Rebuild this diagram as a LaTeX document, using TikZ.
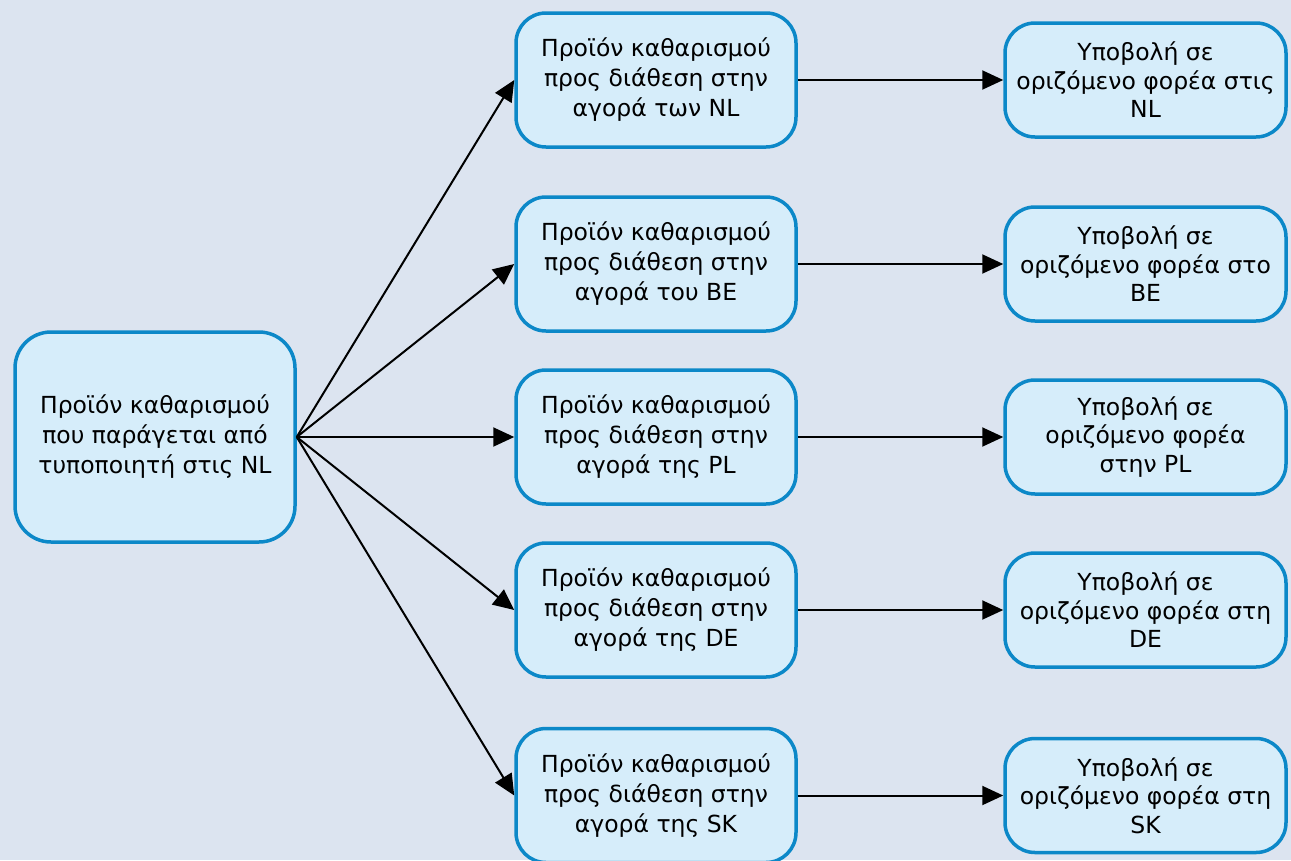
\documentclass[tikz,border=0pt]{standalone}
\usepackage{fontspec}
\setmainfont{DejaVu Sans}
\usetikzlibrary{arrows.meta}
\definecolor{pagebg}{RGB}{220,228,240}
\definecolor{boxfill}{RGB}{214,237,250}
\definecolor{boxline}{RGB}{12,136,200}
\begin{document}
\begin{tikzpicture}[x=1pt,y=-1pt,
  box/.style={draw=boxline, fill=boxfill, line width=3.5pt, align=center,
    font=\fontsize{23.5}{30}\selectfont, inner sep=0pt},
  srcbox/.style={box, minimum width=280pt, minimum height=210pt, rounded corners=36pt},
  midbox/.style={box, minimum width=280pt, minimum height=134pt, rounded corners=30pt},
  dstbox/.style={box, minimum width=281pt, minimum height=114pt, rounded corners=30pt,
    font=\fontsize{23.5}{28.5}\selectfont},
  link/.style={draw=black, line width=2pt, -{Triangle[length=21pt,width=19pt]}}]
  \fill[pagebg] (0,0) rectangle (1291,860);
  \useasboundingbox (0,0) rectangle (1291,860);

  % source
  \node[srcbox] (src) at (155,437) {Προϊόν καθαρισμού\\που παράγεται από\\τυποποιητή στις NL};

  % national markets
  \node[midbox] (m1) at (656,80)    {Προϊόν καθαρισμού\\προς διάθεση στην\\αγορά των NL};
  \node[midbox] (m2) at (656,264)   {Προϊόν καθαρισμού\\προς διάθεση στην\\αγορά του BE};
  \node[midbox] (m3) at (656,437)   {Προϊόν καθαρισμού\\προς διάθεση στην\\αγορά της PL};
  \node[midbox] (m4) at (656,610)   {Προϊόν καθαρισμού\\προς διάθεση στην\\αγορά της DE};
  \node[midbox] (m5) at (656,795.5) {Προϊόν καθαρισμού\\προς διάθεση στην\\αγορά της SK};

  % designated bodies
  \node[dstbox] (d1) at (1145.5,80)    {Υποβολή σε\\οριζόμενο φορέα στις\\NL};
  \node[dstbox] (d2) at (1145.5,264)   {Υποβολή σε\\οριζόμενο φορέα στο\\BE};
  \node[dstbox] (d3) at (1145.5,437)   {Υποβολή σε\\οριζόμενο φορέα\\στην PL};
  \node[dstbox] (d4) at (1145.5,610)   {Υποβολή σε\\οριζόμενο φορέα στη\\DE};
  \node[dstbox] (d5) at (1145.5,795.5) {Υποβολή σε\\οριζόμενο φορέα στη\\SK};

  \foreach \i in {1,...,5}{
    \draw[link] (src.east) -- (m\i.west);
    \draw[link] (m\i.east) -- (d\i.west);
  }
\end{tikzpicture}
\end{document}
